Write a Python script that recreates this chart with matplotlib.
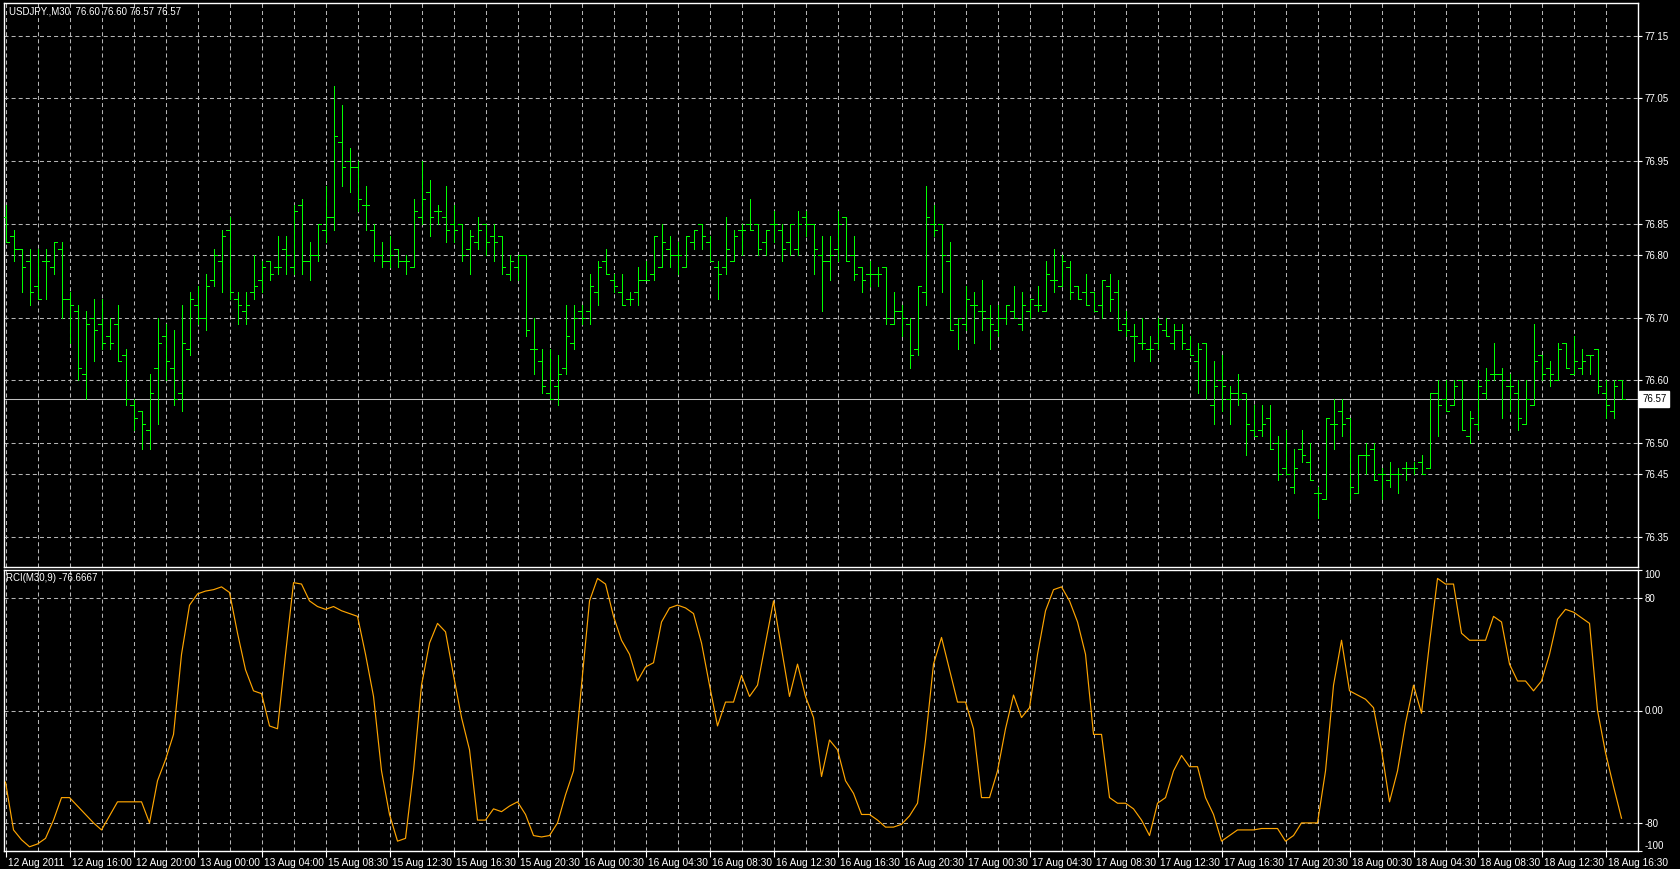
import matplotlib
matplotlib.use('Agg')
import matplotlib.pyplot as plt
import matplotlib.ticker as ticker
import matplotlib.transforms as mtransforms
from matplotlib.collections import LineCollection
import numpy as np

# ---- data (USDJPY M30, 203 bars) ----
opens = [76.86, 76.83, 76.81, 76.79, 76.75, 76.79, 76.78, 76.81, 76.73, 76.71,
         76.61, 76.70, 76.69, 76.67, 76.69, 76.64, 76.56, 76.55, 76.52, 76.62,
         76.67, 76.62, 76.58, 76.65, 76.72, 76.70, 76.76, 76.79, 76.84, 76.73,
         76.71, 76.74, 76.76, 76.79, 76.78, 76.81, 76.78, 76.88, 76.79, 76.80,
         76.84, 76.86, 76.98, 76.95, 76.94, 76.88, 76.84, 76.80, 76.79, 76.81,
         76.79, 76.78, 76.86, 76.90, 76.87, 76.86, 76.85, 76.85, 76.81, 76.82,
         76.85, 76.83, 76.83, 76.77, 76.78, 76.80, 76.65, 76.63, 76.58, 76.59,
         76.62, 76.66, 76.71, 76.71, 76.74, 76.79, 76.76, 76.74, 76.73, 76.74,
         76.76, 76.77, 76.78, 76.81, 76.80, 76.78, 76.82, 76.85, 76.82, 76.78,
         76.78, 76.79, 76.84, 76.85, 76.85, 76.82, 76.85, 76.84, 76.82, 76.81,
         76.86, 76.85, 76.80, 76.79, 76.81, 76.86, 76.80, 76.78, 76.77, 76.77,
         76.78, 76.69, 76.71, 76.69, 76.65, 76.74, 76.85, 76.85, 76.79, 76.69,
         76.69, 76.72, 76.71, 76.70, 76.68, 76.70, 76.71, 76.69, 76.71, 76.72,
         76.71, 76.76, 76.75, 76.78, 76.75, 76.74, 76.74, 76.72, 76.75, 76.74,
         76.69, 76.67, 76.66, 76.65, 76.66, 76.68, 76.66, 76.68, 76.65, 76.63,
         76.66, 76.56, 76.60, 76.57, 76.58, 76.58, 76.52, 76.52, 76.54, 76.50,
         76.46, 76.43, 76.49, 76.47, 76.42, 76.41, 76.53, 76.55, 76.54, 76.42,
         76.48, 76.49, 76.45, 76.44, 76.45, 76.46, 76.46, 76.47, 76.46, 76.58,
         76.57, 76.56, 76.60, 76.51, 76.53, 76.58, 76.61, 76.61, 76.59, 76.58,
         76.53, 76.56, 76.64, 76.62, 76.60, 76.66, 76.61, 76.62, 76.64, 76.65,
         76.58, 76.55, 76.60]
highs = [76.88, 76.84, 76.81, 76.81, 76.81, 76.81, 76.82, 76.82, 76.74, 76.72,
         76.71, 76.73, 76.73, 76.70, 76.72, 76.65, 76.57, 76.55, 76.61, 76.70,
         76.69, 76.68, 76.72, 76.74, 76.75, 76.77, 76.81, 76.84, 76.86, 76.74,
         76.74, 76.80, 76.79, 76.79, 76.83, 76.83, 76.88, 76.89, 76.82, 76.85,
         76.91, 77.07, 77.04, 76.97, 76.95, 76.91, 76.85, 76.82, 76.83, 76.81,
         76.80, 76.89, 76.95, 76.92, 76.88, 76.91, 76.88, 76.85, 76.84, 76.86,
         76.85, 76.85, 76.83, 76.80, 76.80, 76.80, 76.70, 76.65, 76.65, 76.64,
         76.72, 76.72, 76.72, 76.77, 76.79, 76.81, 76.77, 76.77, 76.74, 76.78,
         76.79, 76.83, 76.85, 76.83, 76.82, 76.83, 76.84, 76.85, 76.83, 76.79,
         76.86, 76.84, 76.85, 76.89, 76.85, 76.84, 76.87, 76.85, 76.85, 76.87,
         76.87, 76.85, 76.83, 76.83, 76.87, 76.86, 76.83, 76.78, 76.79, 76.78,
         76.78, 76.74, 76.72, 76.70, 76.75, 76.91, 76.88, 76.85, 76.82, 76.70,
         76.75, 76.74, 76.76, 76.72, 76.72, 76.72, 76.75, 76.74, 76.73, 76.75,
         76.79, 76.81, 76.80, 76.79, 76.75, 76.77, 76.74, 76.76, 76.77, 76.76,
         76.71, 76.69, 76.70, 76.67, 76.70, 76.70, 76.69, 76.69, 76.67, 76.66,
         76.66, 76.63, 76.64, 76.59, 76.61, 76.58, 76.56, 76.56, 76.56, 76.51,
         76.52, 76.49, 76.52, 76.50, 76.43, 76.54, 76.57, 76.57, 76.54, 76.48,
         76.50, 76.50, 76.46, 76.47, 76.46, 76.47, 76.47, 76.48, 76.58, 76.60,
         76.60, 76.60, 76.60, 76.55, 76.60, 76.62, 76.66, 76.62, 76.61, 76.60,
         76.60, 76.69, 76.64, 76.63, 76.66, 76.66, 76.67, 76.65, 76.64, 76.65,
         76.60, 76.60, 76.60]
lows = [76.82, 76.79, 76.74, 76.72, 76.73, 76.73, 76.77, 76.70, 76.66, 76.60,
        76.57, 76.63, 76.65, 76.65, 76.63, 76.56, 76.52, 76.49, 76.49, 76.53,
        76.60, 76.56, 76.55, 76.64, 76.69, 76.68, 76.75, 76.74, 76.73, 76.69,
        76.69, 76.73, 76.74, 76.76, 76.77, 76.77, 76.77, 76.77, 76.76, 76.79,
        76.82, 76.84, 76.91, 76.90, 76.87, 76.84, 76.79, 76.78, 76.78, 76.78,
        76.77, 76.78, 76.85, 76.83, 76.85, 76.82, 76.82, 76.79, 76.77, 76.81,
        76.80, 76.79, 76.77, 76.76, 76.76, 76.67, 76.61, 76.58, 76.57, 76.56,
        76.61, 76.65, 76.69, 76.69, 76.72, 76.77, 76.74, 76.72, 76.72, 76.72,
        76.76, 76.76, 76.78, 76.78, 76.77, 76.78, 76.81, 76.81, 76.79, 76.73,
        76.77, 76.79, 76.80, 76.84, 76.80, 76.80, 76.82, 76.79, 76.80, 76.80,
        76.83, 76.77, 76.71, 76.76, 76.79, 76.79, 76.76, 76.74, 76.75, 76.75,
        76.69, 76.69, 76.67, 76.62, 76.64, 76.72, 76.83, 76.74, 76.68, 76.65,
        76.68, 76.66, 76.68, 76.65, 76.67, 76.69, 76.70, 76.68, 76.70, 76.71,
        76.71, 76.74, 76.75, 76.73, 76.73, 76.72, 76.71, 76.70, 76.71, 76.68,
        76.67, 76.63, 76.65, 76.63, 76.65, 76.67, 76.65, 76.65, 76.64, 76.58,
        76.57, 76.53, 76.55, 76.53, 76.56, 76.48, 76.51, 76.51, 76.49, 76.44,
        76.45, 76.42, 76.47, 76.44, 76.38, 76.41, 76.49, 76.51, 76.41, 76.42,
        76.45, 76.44, 76.41, 76.43, 76.42, 76.44, 76.45, 76.45, 76.46, 76.51,
        76.55, 76.56, 76.52, 76.50, 76.52, 76.57, 76.60, 76.54, 76.55, 76.52,
        76.53, 76.56, 76.60, 76.59, 76.60, 76.62, 76.61, 76.61, 76.61, 76.58,
        76.54, 76.54, 76.57]
closes = [76.82, 76.81, 76.78, 76.74, 76.73, 76.79, 76.82, 76.73, 76.72, 76.62,
          76.69, 76.68, 76.66, 76.66, 76.63, 76.57, 76.54, 76.53, 76.58, 76.66,
          76.63, 76.57, 76.66, 76.73, 76.70, 76.75, 76.80, 76.83, 76.74, 76.72,
          76.72, 76.75, 76.78, 76.77, 76.78, 76.80, 76.87, 76.79, 76.80, 76.85,
          76.86, 76.99, 76.94, 76.94, 76.89, 76.88, 76.80, 76.79, 76.80, 76.79,
          76.79, 76.87, 76.89, 76.86, 76.87, 76.84, 76.84, 76.80, 76.83, 76.84,
          76.82, 76.82, 76.78, 76.79, 76.80, 76.68, 76.65, 76.59, 76.57, 76.61,
          76.67, 76.70, 76.70, 76.75, 76.78, 76.77, 76.75, 76.72, 76.73, 76.76,
          76.76, 76.83, 76.82, 76.80, 76.80, 76.83, 76.84, 76.83, 76.79, 76.77,
          76.81, 76.83, 76.84, 76.84, 76.81, 76.84, 76.85, 76.81, 76.85, 76.85,
          76.85, 76.81, 76.79, 76.80, 76.85, 76.79, 76.77, 76.76, 76.77, 76.77,
          76.70, 76.71, 76.70, 76.64, 76.75, 76.86, 76.84, 76.80, 76.68, 76.70,
          76.73, 76.72, 76.71, 76.69, 76.70, 76.72, 76.70, 76.72, 76.73, 76.72,
          76.77, 76.76, 76.79, 76.74, 76.73, 76.72, 76.71, 76.76, 76.73, 76.68,
          76.68, 76.67, 76.66, 76.65, 76.69, 76.67, 76.68, 76.66, 76.64, 76.65,
          76.60, 76.59, 76.59, 76.58, 76.57, 76.53, 76.51, 76.53, 76.49, 76.45,
          76.45, 76.46, 76.48, 76.44, 76.42, 76.54, 76.53, 76.53, 76.43, 76.48,
          76.48, 76.44, 76.45, 76.45, 76.45, 76.46, 76.46, 76.45, 76.58, 76.56,
          76.55, 76.59, 76.52, 76.54, 76.59, 76.60, 76.61, 76.60, 76.59, 76.54,
          76.57, 76.63, 76.61, 76.61, 76.65, 76.62, 76.63, 76.63, 76.64, 76.59,
          76.56, 76.59, 76.57]
rci = [-51, -85, -92, -97, -95, -91, -78, -62, -62, -68,
       -74, -80, -85, -75, -65, -65, -65, -65, -80, -50,
       -35, -17, 40, 75, 83, 85, 86, 88, 84, 55,
       29, 14, 12, -11, -13, 40, 91, 90, 78, 74,
       72, 74, 71, 69, 67, 40, 10, -43, -74, -93,
       -91, -43, 18, 48, 62, 56, 25, -5, -28, -78,
       -78, -70, -72, -68, -65, -74, -89, -90, -89, -80,
       -60, -43, 18, 78, 94, 90, 67, 50, 40, 21,
       31, 34, 63, 73, 75, 73, 69, 48, 18, -11,
       6, 6, 25, 10, 18, 48, 78, 44, 10, 33,
       10, -5, -47, -21, -28, -50, -59, -74, -74, -78,
       -83, -83, -81, -75, -66, -21, 33, 52, 29, 6,
       6, -13, -62, -62, -43, -13, 11, -5, 2, 40,
       71, 86, 88, 78, 63, 40, -17, -17, -62, -66,
       -66, -70, -78, -89, -66, -62, -43, -32, -40, -40,
       -62, -74, -93, -89, -85, -85, -85, -84, -84, -84,
       -93, -89, -80, -80, -80, -43, 18, 50, 14, 11,
       8, 2, -28, -65, -43, -9, 18, -2, 48, 94,
       90, 90, 55, 50, 50, 50, 67, 63, 33, 21,
       21, 14, 21, 40, 65, 72, 70, 66, 62, 0,
       -30, -54, -76.6667]

time_labels = ['12 Aug 2011', '12 Aug 16:00', '12 Aug 20:00', '13 Aug 00:00',
               '13 Aug 04:00', '15 Aug 08:30', '15 Aug 12:30', '15 Aug 16:30',
               '15 Aug 20:30', '16 Aug 00:30', '16 Aug 04:30', '16 Aug 08:30',
               '16 Aug 12:30', '16 Aug 16:30', '16 Aug 20:30', '17 Aug 00:30',
               '17 Aug 04:30', '17 Aug 08:30', '17 Aug 12:30', '17 Aug 16:30',
               '17 Aug 20:30', '18 Aug 00:30', '18 Aug 04:30', '18 Aug 08:30',
               '18 Aug 12:30', '18 Aug 16:30']
price_ticks = [77.15, 77.05, 76.95, 76.85, 76.80, 76.70, 76.60, 76.50, 76.45, 76.35]
rci_ticks = [100, 80, 0, -80, -100]
rci_tick_labels = ['100', '80', '0.00', '-80', '-100']
last_price = 76.57
header = 'USDJPY.,M30  76.60 76.60 76.57 76.57'
rci_title = 'RCI(M30,9) -76.6667'

plt.rcParams['font.family'] = ['Liberation Sans', 'DejaVu Sans']
plt.rcParams['lines.scale_dashes'] = False

W, H = 1680, 869
grid_color = '#b4b4b4'
grid_style = (0, (2.9, 2.2))
fs = 7

fig = plt.figure(figsize=(W / 100, H / 100), dpi=100, facecolor='black')


def add_panel(left, top, right, bottom):
    return fig.add_axes([left / W, 1 - bottom / H, (right - left) / W, (bottom - top) / H])


ax1 = add_panel(4, 3, 1638, 567)
ax2 = add_panel(4, 570, 1638, 851)

n = len(closes)
x = np.arange(n)
bar_step = 8  # bars per time label
xlim = (-0.19, 204.06)

for ax in (ax1, ax2):
    ax.set_facecolor('black')
    for s in ax.spines.values():
        s.set_color('white')
        s.set_linewidth(1)
    ax.set_xlim(*xlim)
    ax.xaxis.set_major_locator(ticker.FixedLocator(np.arange(0, n, bar_step)))
    ax.xaxis.set_minor_locator(ticker.FixedLocator(np.arange(bar_step // 2, n, bar_step)))
    ax.grid(True, which='both', axis='x', color=grid_color, linestyle=grid_style, lw=0.75)
    ax.grid(True, which='major', axis='y', color=grid_color, linestyle=grid_style, lw=0.75)
    ax.set_axisbelow(True)
    ax.yaxis.tick_right()
    ax.tick_params(axis='y', colors='white', labelsize=fs, length=3, width=0.8, pad=1.5)
    ax.tick_params(axis='x', which='minor', length=0)

# ---- price panel: OHLC bars ----
segs = []
for i in x:
    segs.append([(i, lows[i]), (i, highs[i])])
    segs.append([(i - 0.4, opens[i]), (i, opens[i])])
    segs.append([(i, closes[i]), (i + 0.4, closes[i])])
ax1.add_collection(LineCollection(segs, colors='#00ff00', linewidths=0.6, antialiaseds=False, zorder=3))
ax1.set_ylim(76.3016, 77.2022)
ax1.set_yticks(price_ticks)
ax1.yaxis.set_major_formatter(ticker.FormatStrFormatter('%.2f'))
ax1.tick_params(axis='x', which='both', length=0, labelbottom=False)

ax1.axhline(last_price, color='#c0c0c0', lw=0.75, zorder=2)
ax1.text(1 + 4 / 1634, last_price, f'{last_price:.2f}', transform=ax1.get_yaxis_transform(),
         ha='left', va='center', color='black', fontsize=fs, clip_on=False,
         bbox=dict(boxstyle='square,pad=0.3', fc='white', ec='white'))

# ---- RCI panel ----
ax2.plot(x, rci, color='#ffa500', lw=0.85, zorder=3)
ax2.set_ylim(-100, 100)
ax2.set_yticks(rci_ticks)
ax2.set_yticklabels(rci_tick_labels)
ylabels = ax2.get_yticklabels()
ylabels[0].set_va('top')
ylabels[-1].set_va('bottom')
ax2.set_xticks(np.arange(0, n, bar_step))
ax2.set_xticklabels(time_labels)
ax2.tick_params(axis='x', which='major', colors='white', labelsize=fs + 0.3, length=4, width=0.8, pad=1)
shift = mtransforms.ScaledTranslation(2 / 72, 0, fig.dpi_scale_trans)
for lab in ax2.get_xticklabels():
    lab.set_ha('left')
    lab.set_transform(lab.get_transform() + shift)

fig.text(9 / W, 1 - 12 / H, header, color='white', fontsize=fs, va='center', ha='left')
fig.text(6 / W, 1 - 578 / H, rci_title, color='white', fontsize=fs, va='center', ha='left')

fig.savefig('out.png', dpi=100, facecolor='black')
